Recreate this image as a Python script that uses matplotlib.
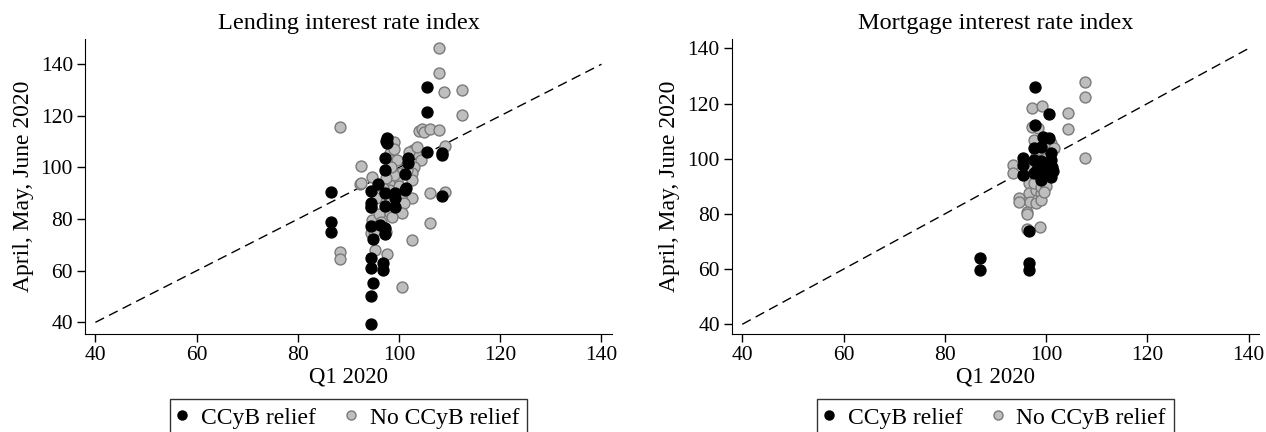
import matplotlib
matplotlib.use("Agg")
import matplotlib.pyplot as plt
from matplotlib.lines import Line2D

plt.rcParams['font.family'] = ['Liberation Serif', 'DejaVu Serif']

# Lending interest rate index: CCyB relief (black)
lend_relief_x = [86.6, 86.6, 86.6, 97.7, 97.7, 97.5, 97.3, 97.3, 101.8, 101.8,
                 101.1, 101.1, 95.8, 94.5, 97.2, 99.2, 99.2, 94.5, 94.5, 97.2,
                 99.2, 94.5, 96.3, 97.2, 97.2, 94.9, 94.5, 94.5, 96.9, 96.9,
                 94.9, 94.5, 94.5, 105.6, 105.6, 105.6, 108.5, 108.5, 108.5, 101.3]
lend_relief_y = [90.6, 79.0, 74.9, 111.3, 109.4, 110.3, 103.5, 99.0, 103.5, 101.6,
                 97.5, 91.3, 93.6, 91.0, 90.0, 90.0, 88.0, 86.1, 84.8, 85.2,
                 84.8, 77.3, 77.7, 76.7, 74.2, 72.2, 64.8, 61.2, 62.9, 60.3,
                 55.1, 50.2, 39.3, 131.1, 121.6, 106.1, 105.5, 104.8, 89.0, 91.9]

# Lending interest rate index: no CCyB relief (grey)
lend_other_x = [107.9, 107.9, 108.9, 112.5, 112.5, 88.3, 103.9, 104.6, 104.9, 106.2,
                107.9, 92.4, 92.2, 92.4, 106.2, 109.0, 106.2, 102.5, 88.3, 88.3,
                100.6, 97.6, 95.3, 102.8, 109.0, 98.0, 99.0, 98.3, 98.2, 94.7,
                99.6, 100.3, 99.6, 103.6, 104.3, 103.0, 102.6, 102.6, 102.6, 98.0,
                98.0, 97.0, 98.3, 100.3, 101.0, 100.6, 94.4, 94.7, 95.0, 94.4,
                98.3, 98.7, 96.0, 96.5, 95.5, 96.8, 99.0, 98.5, 100.0, 102.0,
                103.5, 99.0, 101.5, 97.5, 95.0, 97.5]
lend_other_y = [146.2, 136.5, 129.1, 130.0, 120.4, 115.8, 114.1, 114.8, 113.9, 114.9,
                114.5, 100.7, 93.6, 93.9, 90.0, 90.6, 78.4, 71.9, 67.1, 64.4,
                53.7, 66.5, 68.0, 106.8, 108.3, 110.7, 110.0, 105.5, 102.9, 96.4,
                102.9, 97.7, 95.2, 105.5, 102.9, 100.3, 97.7, 95.2, 88.0, 93.9,
                91.3, 88.7, 87.4, 88.7, 86.1, 82.2, 84.8, 79.7, 77.1, 74.5,
                82.2, 81.0, 82.0, 79.0, 88.0, 92.0, 97.0, 100.0, 93.0, 106.0,
                108.0, 107.0, 99.0, 96.0, 75.0, 75.0]

# Mortgage interest rate index: CCyB relief (black)
mort_relief_x = [97.7, 100.5, 97.7, 99.4, 100.5, 98.9, 97.6, 95.4, 95.4, 95.4,
                 97.6, 98.3, 97.6, 98.9, 100.9, 100.9, 101.2, 100.9, 99.6, 99.9,
                 99.0, 98.0, 101.3, 96.6, 87.0, 87.0, 96.6, 96.6]
mort_relief_y = [126.1, 116.2, 112.2, 108.0, 107.4, 104.4, 103.8, 100.1, 97.7, 94.1,
                 99.5, 97.1, 94.7, 92.3, 101.9, 99.5, 97.1, 93.5, 97.1, 94.7,
                 99.0, 95.5, 95.5, 73.9, 64.1, 59.7, 62.3, 59.7]

# Mortgage interest rate index: no CCyB relief (grey)
mort_other_x = [107.7, 107.7, 104.3, 104.3, 107.7, 97.3, 99.2, 97.3, 98.3, 97.6,
                93.5, 93.5, 100.9, 96.6, 96.6, 97.9, 98.9, 94.7, 94.7, 96.9,
                97.9, 98.9, 96.2, 96.2, 96.2, 98.7, 97.6, 98.9, 99.5, 98.0,
                99.0, 99.5, 97.0, 100.0, 99.5, 101.5]
mort_other_y = [127.7, 122.2, 116.4, 110.8, 100.1, 118.2, 119.1, 111.6, 111.0, 106.8,
                97.7, 94.7, 105.6, 91.1, 87.5, 88.7, 87.5, 85.6, 84.4, 84.4,
                83.8, 85.0, 80.8, 80.0, 74.4, 75.2, 91.1, 89.9, 92.5, 101.0,
                103.0, 100.0, 97.0, 90.0, 88.0, 104.0]

ticks = [40, 60, 80, 100, 120, 140]
grey = '#bebebe'
grey_edge = '#7a7a7a'

fig = plt.figure(figsize=(12.66, 4.32), dpi=100)
ax1 = fig.add_axes([0.0675, 0.2269, 0.416, 0.683])
ax2 = fig.add_axes([0.5784, 0.2269, 0.416, 0.683])

panels = [
    (ax1, "Lending interest rate index", lend_relief_x, lend_relief_y,
     lend_other_x, lend_other_y, (38.04, 142.1), (35.5, 149.8)),
    (ax2, "Mortgage interest rate index", mort_relief_x, mort_relief_y,
     mort_other_x, mort_other_y, (38.03, 142.0), (36.5, 143.4)),
]

for ax, title, rx, ry, ox, oy, xlim, ylim in panels:
    # 45 degree reference line
    ax.plot([40, 140], [40, 140], color='black', lw=1, ls=(0, (7, 4)), zorder=1)
    ax.scatter(ox, oy, s=62, c=grey, edgecolors=grey_edge, linewidths=1, zorder=2)
    ax.scatter(rx, ry, s=62, c='black', edgecolors='black', linewidths=1, zorder=3)

    ax.set_xlim(*xlim)
    ax.set_ylim(*ylim)
    ax.set_xticks(ticks)
    ax.set_yticks(ticks)
    ax.tick_params(direction='out', length=6, width=1, labelsize=15.5, pad=3)
    for side in ['top', 'right']:
        ax.spines[side].set_visible(False)
    ax.set_title(title, fontsize=17.5, pad=7)
    ax.set_xlabel("Q1 2020", fontsize=16.5, labelpad=1)
    ax.set_ylabel("April, May, June 2020", fontsize=17, labelpad=5)

    handles = [
        Line2D([], [], ls='none', marker='o', ms=6.5, mfc='black', mec='black'),
        Line2D([], [], ls='none', marker='o', ms=6.5, mfc=grey, mec=grey_edge),
    ]
    leg = ax.legend(handles, ["CCyB relief", "No CCyB relief"], ncol=2,
                    loc='upper center', bbox_to_anchor=(0.5, -0.22),
                    fontsize=17, frameon=True, fancybox=False, edgecolor='black',
                    handlelength=0.3, handletextpad=0.65, columnspacing=1.33,
                    borderpad=0.35, borderaxespad=0)
    leg.get_frame().set_linewidth(1)

fig.savefig("out.png", dpi=100)
